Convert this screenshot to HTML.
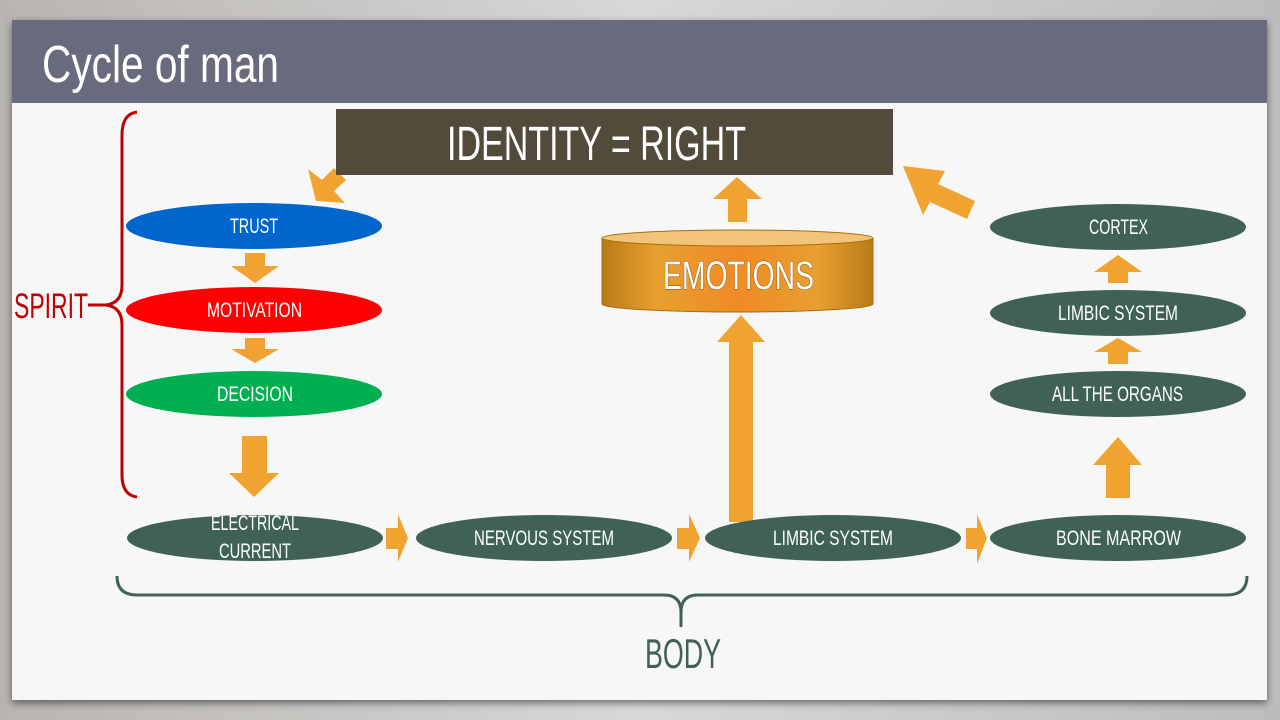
<!DOCTYPE html>
<html><head><meta charset="utf-8"><style>html,body{margin:0;padding:0;width:1280px;height:720px;overflow:hidden;background:#c9c9c9}</style></head>
<body>
<svg width="1280" height="720" viewBox="0 0 1280 720" xmlns="http://www.w3.org/2000/svg" font-family="'Liberation Sans Narrow','Liberation Sans',sans-serif">
<defs>
<linearGradient id="bg" x1="0" x2="1" y1="0" y2="0"><stop offset="0" stop-color="#b8b4b0"/><stop offset="0.5" stop-color="#d8d8d8"/><stop offset="1" stop-color="#bcbcbc"/></linearGradient>
<linearGradient id="cyl" x1="0" x2="1"><stop offset="0" stop-color="#b97a16"/><stop offset="0.2" stop-color="#e7a030"/><stop offset="0.5" stop-color="#f08a25"/><stop offset="0.8" stop-color="#e7a030"/><stop offset="1" stop-color="#b97a16"/></linearGradient>
<radialGradient id="red" cx="0.5" cy="1" r="0.5"><stop offset="0" stop-color="#ff2a10"/><stop offset="1" stop-color="#ff2a10" stop-opacity="0"/></radialGradient>
<clipPath id="cc"><path d="M602 238 L602 304 A135 8 0 0 0 873 304 L873 238 Z"/></clipPath>
<filter id="sh" x="-5%" y="-5%" width="110%" height="115%"><feDropShadow dx="0" dy="3" stdDeviation="4" flood-opacity="0.5"/></filter>
</defs>
<rect width="1280" height="720" fill="url(#bg)"/>
<rect x="12" y="20" width="1255" height="680" fill="#f7f7f8" filter="url(#sh)"/>
<rect x="12" y="20" width="1255" height="83" fill="#696a7e"/>
<text x="42" y="82" font-size="52" fill="#fff" textLength="237" lengthAdjust="spacingAndGlyphs">Cycle of man</text>

<!-- red brace -->
<path d="M137 112 Q122 114 122 135 L122 285 Q122 303 106 305 Q122 307 122 325 L122 475 Q122 495 137 497" fill="none" stroke="#c00000" stroke-width="3"/>
<line x1="88" y1="305" x2="106" y2="305" stroke="#c00000" stroke-width="3"/>
<text x="14" y="318" font-size="35" fill="#c00000" textLength="74" lengthAdjust="spacingAndGlyphs">SPIRIT</text>

<!-- body brace -->
<path d="M117 576 Q117 595 137 595 L664 595 Q681 595 681 612 L681 627 M681 612 Q681 595 698 595 L1227 595 Q1247 595 1247 576" fill="none" stroke="#3f6158" stroke-width="3"/>
<text x="645" y="668" font-size="42" fill="#3f6158" textLength="76" lengthAdjust="spacingAndGlyphs">BODY</text>

<g fill="#f0a330">
<polygon points="308,169 322,180 334,168 346,180 334,191 345,203 316,201"/>
<polygon points="245,253 265,253 265,266 279,266 255,283 231,266 245,266"/>
<polygon points="245,338 265,338 265,349 279,349 255,363 231,349 245,349"/>
<polygon points="242,436 267,436 267,473 279,473 254,497 229,473 242,473"/>
<polygon points="386,528 398,528 398,514 408,538 398,562 398,549 386,549"/>
<polygon points="677,528 689,528 689,514 700,538 689,562 689,549 677,549"/>
<polygon points="966,528 977,528 977,514 987,538 977,564 977,549 966,549"/>
<polygon points="729,522 729,342 717,342 741,315 765,342 753,342 753,522"/>
<polygon points="728,222 728,199 713,199 737,177 762,199 747,199 747,222"/>
<polygon points="1108,283 1108,272 1094,272 1118,255 1142,272 1128,272 1128,283"/>
<polygon points="1108,364 1108,352 1094,352 1118,338 1142,352 1128,352 1128,364"/>
<polygon points="1106,498 1106,465 1093,465 1118,437 1142,465 1130,465 1130,498"/>
<polygon points="903,166 945,171 938,184 975,201 967,219 930,202 923,215"/>
</g>
<rect x="336" y="109" width="557" height="66" fill="#524a3a"/>
<text x="447" y="160" font-size="48" fill="#fff" textLength="299" lengthAdjust="spacingAndGlyphs">IDENTITY = RIGHT</text>

<ellipse cx="254" cy="226" rx="128" ry="23" fill="#0066cc"/>
<ellipse cx="254" cy="310" rx="128" ry="23" fill="#ff0000"/>
<ellipse cx="254" cy="394" rx="128" ry="23" fill="#00b050"/>
<g fill="#3f6158">
<ellipse cx="255" cy="538" rx="128" ry="23"/>
<ellipse cx="544" cy="538" rx="128" ry="23"/>
<ellipse cx="833" cy="538" rx="128" ry="23"/>
<ellipse cx="1118" cy="538" rx="128" ry="23"/>
<ellipse cx="1118" cy="227" rx="128" ry="23"/>
<ellipse cx="1118" cy="313" rx="128" ry="23"/>
<ellipse cx="1118" cy="394" rx="128" ry="23"/>
</g>
<g fill="#fff" font-size="21">
<text x="230" y="233" textLength="48" lengthAdjust="spacingAndGlyphs">TRUST</text>
<text x="207" y="317" textLength="95" lengthAdjust="spacingAndGlyphs">MOTIVATION</text>
<text x="217" y="401" textLength="76" lengthAdjust="spacingAndGlyphs">DECISION</text>
<text x="211" y="530" textLength="88" lengthAdjust="spacingAndGlyphs">ELECTRICAL</text>
<text x="219" y="558" textLength="72" lengthAdjust="spacingAndGlyphs">CURRENT</text>
<text x="474" y="545" textLength="140" lengthAdjust="spacingAndGlyphs">NERVOUS SYSTEM</text>
<text x="773" y="545" textLength="120" lengthAdjust="spacingAndGlyphs">LIMBIC SYSTEM</text>
<text x="1056" y="545" textLength="125" lengthAdjust="spacingAndGlyphs">BONE MARROW</text>
<text x="1089" y="234" textLength="59" lengthAdjust="spacingAndGlyphs">CORTEX</text>
<text x="1058" y="320" textLength="120" lengthAdjust="spacingAndGlyphs">LIMBIC SYSTEM</text>
<text x="1052" y="401" textLength="131" lengthAdjust="spacingAndGlyphs">ALL THE ORGANS</text>
</g>

<!-- emotions cylinder -->
<path d="M602 238 L602 304 A135 8 0 0 0 873 304 L873 238 Z" fill="url(#cyl)" stroke="#a86d10" stroke-width="1"/>
<ellipse cx="737" cy="312" rx="75" ry="30" fill="url(#red)" clip-path="url(#cc)"/>
<ellipse cx="737.5" cy="238" rx="135.5" ry="8" fill="#f2c47a" stroke="#a86d10" stroke-width="1"/>
<text x="663" y="289" font-size="40" fill="#fff" textLength="151" lengthAdjust="spacingAndGlyphs" style="paint-order:stroke" stroke="#8a4a00" stroke-width="1">EMOTIONS</text>
</svg>
</body></html>
